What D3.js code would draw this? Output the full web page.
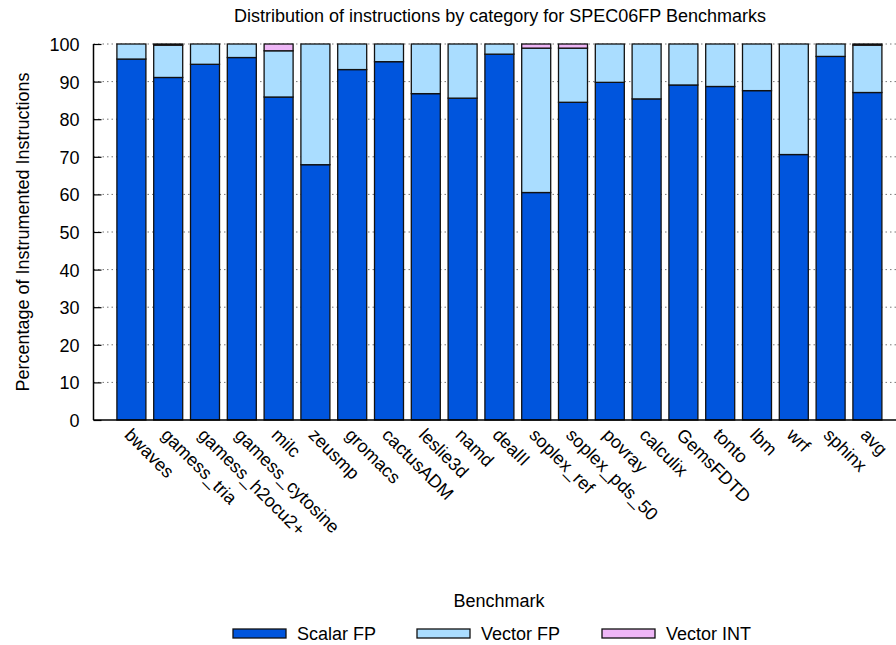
<!DOCTYPE html>
<html>
<head>
<meta charset="utf-8">
<script src="https://cdn.jsdelivr.net/npm/d3@7"></script>
<style>
  html, body { margin: 0; padding: 0; background: #fff; }
  svg { display: block; }
  text { font-family: "Liberation Sans", Arial, sans-serif; fill: #000; }
</style>
</head>
<body>
<svg id="chart" width="896" height="645"></svg>
<script>
const categories = ["bwaves","gamess_tria","gamess_h2ocu2+","gamess_cytosine","milc","zeusmp","gromacs","cactusADM","leslie3d","namd","dealII","soplex_ref","soplex_pds_50","povray","calculix","GemsFDTD","tonto","lbm","wrf","sphinx","avg"];
const scalarFP  = [96.0, 91.1, 94.6, 96.4, 85.9, 67.9, 93.2, 95.3, 86.8, 85.6, 97.3, 60.5, 84.5, 89.8, 85.4, 89.1, 88.7, 87.6, 70.6, 96.7, 87.1];
const vectorFP  = [4.0, 8.6, 5.4, 3.6, 12.3, 32.1, 6.8, 4.7, 13.2, 14.4, 2.7, 38.4, 14.4, 10.2, 14.6, 10.9, 11.3, 12.4, 29.4, 3.3, 12.6];
const vectorINT = [0.0, 0.3, 0.0, 0.0, 1.8, 0.0, 0.0, 0.0, 0.0, 0.0, 0.0, 1.1, 1.1, 0.0, 0.0, 0.0, 0.0, 0.0, 0.0, 0.0, 0.3];
const seriesNames = ["Scalar FP", "Vector FP", "Vector INT"];
const seriesColors = ["#0055dd", "#aaddff", "#eeb6f6"];
const yTicks = [0, 10, 20, 30, 40, 50, 60, 70, 80, 90, 100];
const titleText = "Distribution of instructions by category for SPEC06FP Benchmarks";
const xLabel = "Benchmark";
const yLabel = "Percentage of Instrumented Instructions";

const svg = d3.select("#chart");
const plotLeft = 93.5, plotTop = 44, plotBottom = 420;

const rows = categories.map((c, i) => ({cat: c, s0: scalarFP[i], s1: vectorFP[i], s2: vectorINT[i]}));
const stack = d3.stack().keys(["s0", "s1", "s2"])(rows);

const x = d3.scaleLinear().domain([-1.03, 21]).range([plotLeft, plotLeft + 22.03 * 36.8]);
const y = d3.scaleLinear().domain([0, 100]).range([plotBottom, plotTop]);
const barW = 29;

// grid
svg.append("g").selectAll("line").data(yTicks.filter(d => d > 0)).join("line")
  .attr("x1", plotLeft).attr("x2", 896)
  .attr("y1", d => y(d)).attr("y2", d => y(d))
  .attr("stroke", "#777").attr("stroke-width", 1)
  .attr("stroke-dasharray", "1.5,3");

// bars
svg.append("g").selectAll("g").data(stack).join("g")
  .attr("fill", (d, i) => seriesColors[i])
  .selectAll("rect").data(d => d.filter(p => p[1] - p[0] > 0)).join("rect")
  .attr("x", (d) => x(categories.indexOf(d.data.cat)) - barW / 2)
  .attr("width", barW)
  .attr("y", d => y(d[1]))
  .attr("height", d => y(d[0]) - y(d[1]))
  .attr("stroke", "#111").attr("stroke-width", 1.3);

// y axis
const yAxis = d3.axisLeft(y).tickValues(yTicks).tickSize(-8).tickPadding(14);
const ga = svg.append("g").attr("transform", `translate(${plotLeft},0)`).call(yAxis);
ga.select(".domain").remove();
ga.selectAll("line").attr("stroke", "#000").attr("stroke-width", 1.2);
ga.selectAll("text").attr("font-size", 18).attr("font-family", '"Liberation Sans", Arial, sans-serif').attr("dy", "0.36em");
svg.append("line").attr("x1", plotLeft).attr("x2", plotLeft).attr("y1", plotTop).attr("y2", plotBottom)
  .attr("stroke", "#000").attr("stroke-width", 1.5);
svg.append("line").attr("x1", plotLeft).attr("x2", 896).attr("y1", plotBottom).attr("y2", plotBottom)
  .attr("stroke", "#000").attr("stroke-width", 1.5);

// x labels
svg.append("g").selectAll("text").data(categories).join("text")
  .attr("transform", (d, i) => `translate(${x(i) - 8},${436}) rotate(45)`)
  .attr("font-size", 18).attr("text-anchor", "start")
  .text(d => d);

// title & axis labels
svg.append("text").attr("x", 500).attr("y", 22).attr("text-anchor", "middle").attr("font-size", 18).text(titleText);
svg.append("text").attr("x", 499).attr("y", 607).attr("text-anchor", "middle").attr("font-size", 18).text(xLabel);
svg.append("text").attr("transform", `translate(29,${(plotTop + plotBottom) / 2}) rotate(-90)`)
  .attr("text-anchor", "middle").attr("font-size", 18).text(yLabel);

// legend
const legX = [233, 417, 602];
const lg = svg.append("g").selectAll("g").data(seriesNames).join("g")
  .attr("transform", (d, i) => `translate(${legX[i]},629)`);
lg.append("rect").attr("width", 53).attr("height", 9)
  .attr("fill", (d, i) => seriesColors[i]).attr("stroke", "#111").attr("stroke-width", 1.3);
lg.append("text").attr("x", 64).attr("y", 11).attr("font-size", 18).text(d => d);
</script>
</body>
</html>
